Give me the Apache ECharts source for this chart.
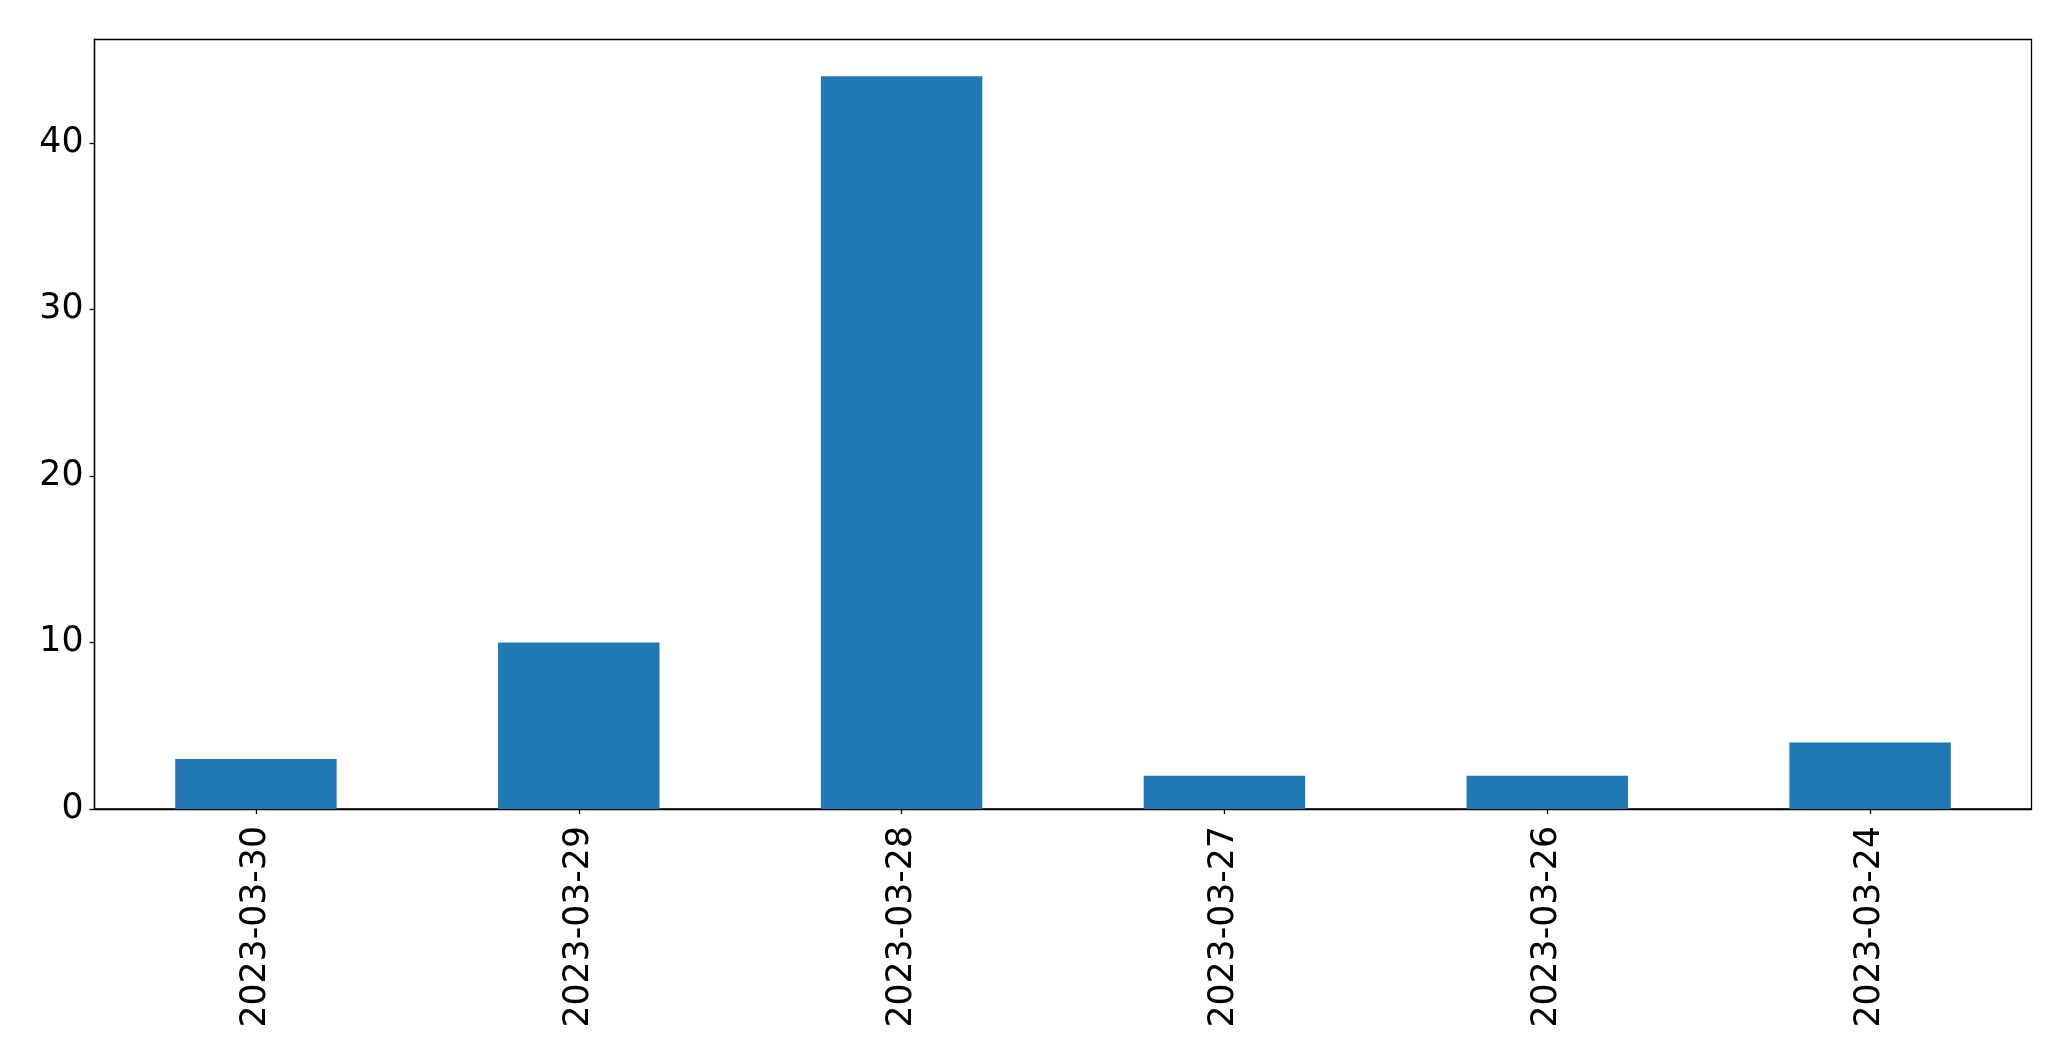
<!DOCTYPE html>
<html>
<head>
<meta charset="utf-8">
<script src="https://cdn.jsdelivr.net/npm/echarts@6/dist/echarts.min.js"></script>
<style>
html,body{margin:0;padding:0;background:#fff;}
#chart{width:2071px;height:1061px;}
</style>
</head>
<body>
<div id="chart"></div>
<script>
const categories = ["2023-03-30","2023-03-29","2023-03-28","2023-03-27","2023-03-26","2023-03-24"];
const values = [3, 10, 44, 2, 2, 4];
const yTicks = [0, 10, 20, 30, 40];

const chart = echarts.init(document.getElementById('chart'), null, {renderer: 'canvas'});
const font = 'DejaVu Sans';
chart.setOption({
  animation: false,
  backgroundColor: '#fff',
  grid: {
    left: 94.5, top: 39.5, right: 39.5, bottom: 252,
    show: true, borderColor: '#000', borderWidth: 1.3, containLabel: false
  },
  xAxis: {
    type: 'category',
    data: categories,
    boundaryGap: true,
    axisLine: {show: true, lineStyle: {color: '#000', width: 1.3}},
    axisTick: {show: true, alignWithLabel: true, length: 5, lineStyle: {color: '#000', width: 1.3}},
    axisLabel: {rotate: 90, margin: 17, color: '#000', fontSize: 34.7, fontFamily: font, interval: 0},
    splitLine: {show: false}
  },
  yAxis: {
    type: 'value',
    min: 0, max: 46.2, interval: 10,
    axisLine: {show: true, lineStyle: {color: '#000', width: 1.3}},
    axisTick: {show: true, length: 5, lineStyle: {color: '#000', width: 1.3}},
    axisLabel: {
      margin: 11, color: '#000', fontSize: 34.7, fontFamily: font, showMaxLabel: false,
      formatter: function (v) { return yTicks.indexOf(v) >= 0 ? String(v) : ''; }
    },
    splitLine: {show: false}
  },
  series: [{
    type: 'bar',
    data: values,
    barWidth: '50%',
    itemStyle: {color: '#1f77b4'}
  }]
});
</script>
</body>
</html>
